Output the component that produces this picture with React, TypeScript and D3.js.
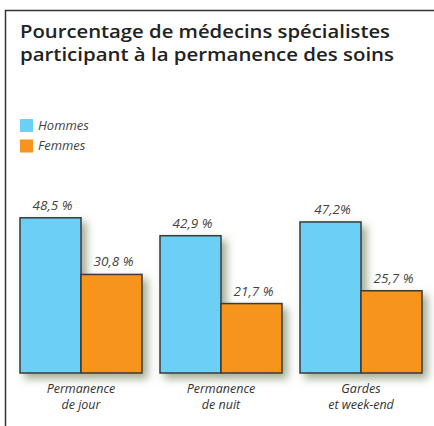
import React from "react";
import * as d3 from "d3";

// data
const categories = ["Permanence\nde jour", "Permanence\nde nuit", "Gardes\net week-end"];
const series = ["Hommes", "Femmes"];
const hommes = [48.5, 42.9, 47.2];
const femmes = [30.8, 21.7, 25.7];
const valueLabels = [
  ["48,5 %", "30,8 %"],
  ["42,9 %", "21,7 %"],
  ["47,2%", "25,7 %"],
];
const titleLines = ["Pourcentage de médecins spécialistes", "participant à la permanence des soins"];
const colors = ["#6ccff5", "#f7941e"];

const W = 434;
const H = 426;

const App = () => {
  const x = d3
    .scaleBand<number>()
    .domain(d3.range(categories.length))
    .range([20, 422])
    .paddingInner(18 / 140)
    .paddingOuter(0);

  const xs = d3
    .scaleBand<number>()
    .domain(d3.range(series.length))
    .range([0, x.bandwidth()]);

  const y = d3.scaleLinear().domain([0, 50]).range([373, 213]);

  const values = categories.map((_, i) => [hommes[i], femmes[i]]);

  return (
    <svg
      width={W}
      height={H}
      style={{ position: "absolute", left: 0, top: 0, display: "block", background: "#fff" }}
      fontFamily="'Open Sans', sans-serif"
    >
      <defs>
        <filter id="shadow" x="-20%" y="-20%" width="150%" height="150%">
          <feDropShadow dx="5" dy="5" stdDeviation="4" floodColor="#55663a" floodOpacity="0.55" />
        </filter>
      </defs>

      {/* frame */}
      <path d={`M5.5,${H} V10.5 H${W}`} fill="none" stroke="#333" strokeWidth={1.5} />

      {/* title */}
      {titleLines.map((t, k) => (
        <text
          key={k}
          x={20}
          y={38 + k * 23}
          fontSize={18}
          fontWeight={600}
          fill="#222"
          textLength={k === 0 ? 370 : 374}
          lengthAdjust="spacingAndGlyphs"
        >
          {t}
        </text>
      ))}

      {/* legend */}
      {series.map((s, j) => (
        <g key={s} transform={`translate(20, ${119 + j * 20.5})`}>
          <rect width={13} height={13} fill={colors[j]} />
          <text x={18} y={10.5} fontSize={13} fontStyle="italic" fill="#444">
            {s}
          </text>
        </g>
      ))}

      {/* bars */}
      {values.map((vals, i) => (
        <g key={i} transform={`translate(${x(i)}, 0)`}>
          <g filter="url(#shadow)">
            {vals.map((v, j) => (
              <rect
                key={j}
                x={xs(j)}
                y={y(v)}
                width={xs.bandwidth()}
                height={y(0) - y(v)}
                fill={colors[j]}
                stroke="#3a3a3a"
                strokeWidth={1.5}
              />
            ))}
          </g>
          {vals.map((v, j) => (
            <text
              key={j}
              x={(xs(j) as number) + xs.bandwidth() / 2 + 2}
              y={y(v) - 8}
              textAnchor="middle"
              fontSize={13.5}
              fontStyle="italic"
              fill="#444"
            >
              {valueLabels[i][j]}
            </text>
          ))}
          {categories[i].split("\n").map((line, k) => (
            <text
              key={k}
              x={x.bandwidth() / 2}
              y={393 + k * 16}
              textAnchor="middle"
              fontSize={12.5}
              fontStyle="italic"
              fill="#333"
            >
              {line}
            </text>
          ))}
        </g>
      ))}
    </svg>
  );
};

export default App;
